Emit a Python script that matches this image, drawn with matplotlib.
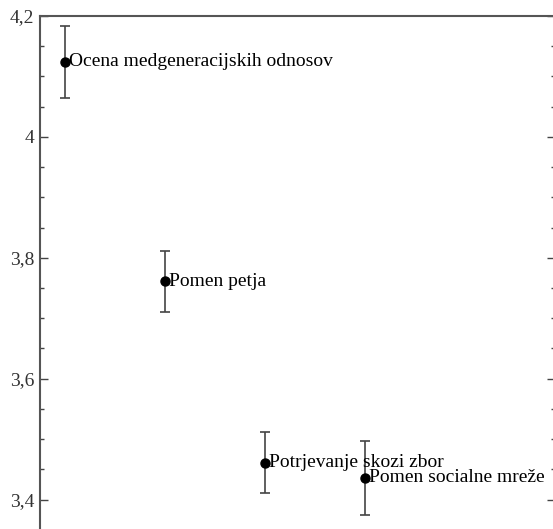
import matplotlib.pyplot as plt
from matplotlib.ticker import MultipleLocator, FuncFormatter

labels = ['Ocena medgeneracijskih odnosov', 'Pomen petja',
          'Potrjevanje skozi zbor', 'Pomen socialne mreže']
positions = [1, 2, 3, 4]
means = [4.124, 3.761, 3.461, 3.436]
errors = [0.06, 0.05, 0.05, 0.061]

plt.rcParams['font.family'] = ['Liberation Serif', 'DejaVu Serif']

fig = plt.figure(figsize=(5.53, 5.29), dpi=100)
# axes run past the right and bottom edge, as in the cropped original
ax = fig.add_axes([40/553, (529-560)/529, 515/553, 544/529])

ax.errorbar(positions, means, yerr=errors, fmt='o', color='black',
            ecolor='#444444', elinewidth=1.2, capsize=3.7, capthick=1.2,
            markersize=6.5)
for x, y, t in zip(positions, means, labels):
    ax.annotate(t, (x, y), xytext=(3, 0), textcoords='offset points',
                ha='left', va='center', fontsize=14)

ax.set_xlim(0.75, 5.9)
ax.set_ylim(3.3, 4.2)
ax.yaxis.set_major_locator(MultipleLocator(0.2))
ax.yaxis.set_minor_locator(MultipleLocator(0.05))
ax.yaxis.set_major_formatter(FuncFormatter(
    lambda v, p: ('%g' % round(v, 2)).replace('.', ',')))
ax.set_xticks([])
ax.tick_params(axis='y', which='both', direction='in', right=True,
               colors='#444444', labelcolor='#333333', labelsize=14)
ax.tick_params(axis='y', which='major', length=6, width=1, pad=4)
ax.tick_params(axis='y', which='minor', length=3, width=1)
for s in ax.spines.values():
    s.set_color('#555555')
    s.set_linewidth(1.5)

fig.savefig('out.png', dpi=100)
